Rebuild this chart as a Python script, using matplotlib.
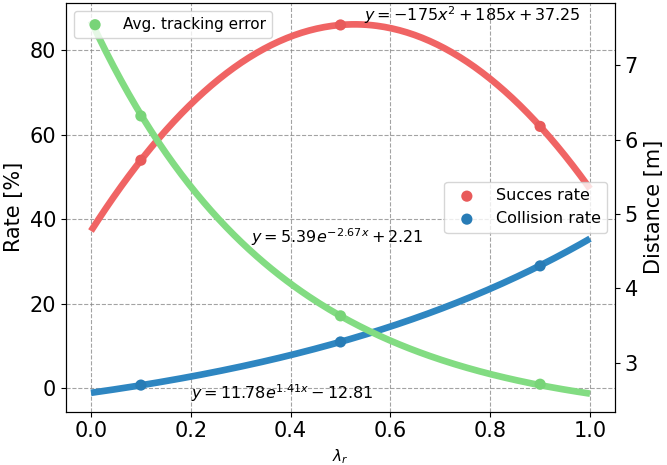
import numpy as np
import matplotlib
matplotlib.use("Agg")
import matplotlib.pyplot as plt

# measured points (lambda_r)
x_pts = [0.1, 0.5, 0.9]
success_pts = [54, 86, 62]
collision_pts = [0.8, 11, 29]
tracking_pts = [6.32, 3.63, 2.71]

# fitted curves printed on the chart
success_coef = [-175, 185, 37.25]          # a x^2 + b x + c
collision_coef = [11.78, 1.41, -12.81]     # a e^(b x) + c
tracking_coef = [5.39, -2.67, 2.21]        # a e^(b x) + c

red = "#f06464"
blue = "#2e86c1"
green = "#82dc82"

xs = np.linspace(0, 1, 200)
succ_fit = np.polyval(success_coef, xs)
coll_fit = collision_coef[0] * np.exp(collision_coef[1] * xs) + collision_coef[2]
track_fit = tracking_coef[0] * np.exp(tracking_coef[1] * xs) + tracking_coef[2]

fig = plt.figure(figsize=(6.67, 4.65), dpi=100)
ax = fig.add_axes([0.099, 0.1146, 0.823, 0.879])
ax2 = ax.twinx()

ax.plot(xs, succ_fit, color=red, lw=4.8, solid_capstyle="butt", zorder=2)
ax.plot(xs, coll_fit, color=blue, lw=4.8, solid_capstyle="butt", zorder=2)
ax.scatter(x_pts, success_pts, color="#e85a5a", s=65, zorder=3, edgecolors="none", label="Succes rate")
ax.scatter(x_pts, collision_pts, color="#287cb6", s=65, zorder=3, edgecolors="none", label="Collision rate")
ax2.plot(xs, track_fit, color=green, lw=4.8, solid_capstyle="butt", zorder=2)
ax2.scatter(x_pts, tracking_pts, color="#78d478", s=65, zorder=3, edgecolors="none", label="Avg. tracking error")

ax.set_xlim(-0.05, 1.05)
ax.set_ylim(-5.5, 91.2)
ax2.set_ylim(2.34, 7.84)
ax.set_xticks([0.0, 0.2, 0.4, 0.6, 0.8, 1.0])
ax.set_yticks([0, 20, 40, 60, 80])
ax2.set_yticks([3, 4, 5, 6, 7])
ax.tick_params(labelsize=15)
ax2.tick_params(labelsize=15)
ax.grid(True, linestyle="--", color="#8c8c8c", alpha=0.8, lw=0.8)

ax.set_ylabel("Rate [%]", fontsize=15)
ax2.set_ylabel("Distance [m]", fontsize=15)
ax.set_xlabel(r"$\lambda_r$", fontsize=11)

ax.text(0.548, 88.3, r"$y = -175x^2 + 185x + 37.25$", fontsize=11.5, va="center")
ax.text(0.32, 35.9, r"$y = 5.39e^{-2.67x} + 2.21$", fontsize=11.5, va="center")
ax.text(0.2, -1.1, r"$y = 11.78e^{1.41x} - 12.81$", fontsize=11.5, va="center")

ax.legend(loc="center right", fontsize=11.5, bbox_to_anchor=(1.0, 0.5))
ax2.legend(loc="upper left", fontsize=11)

fig.savefig("out.png", dpi=100)
